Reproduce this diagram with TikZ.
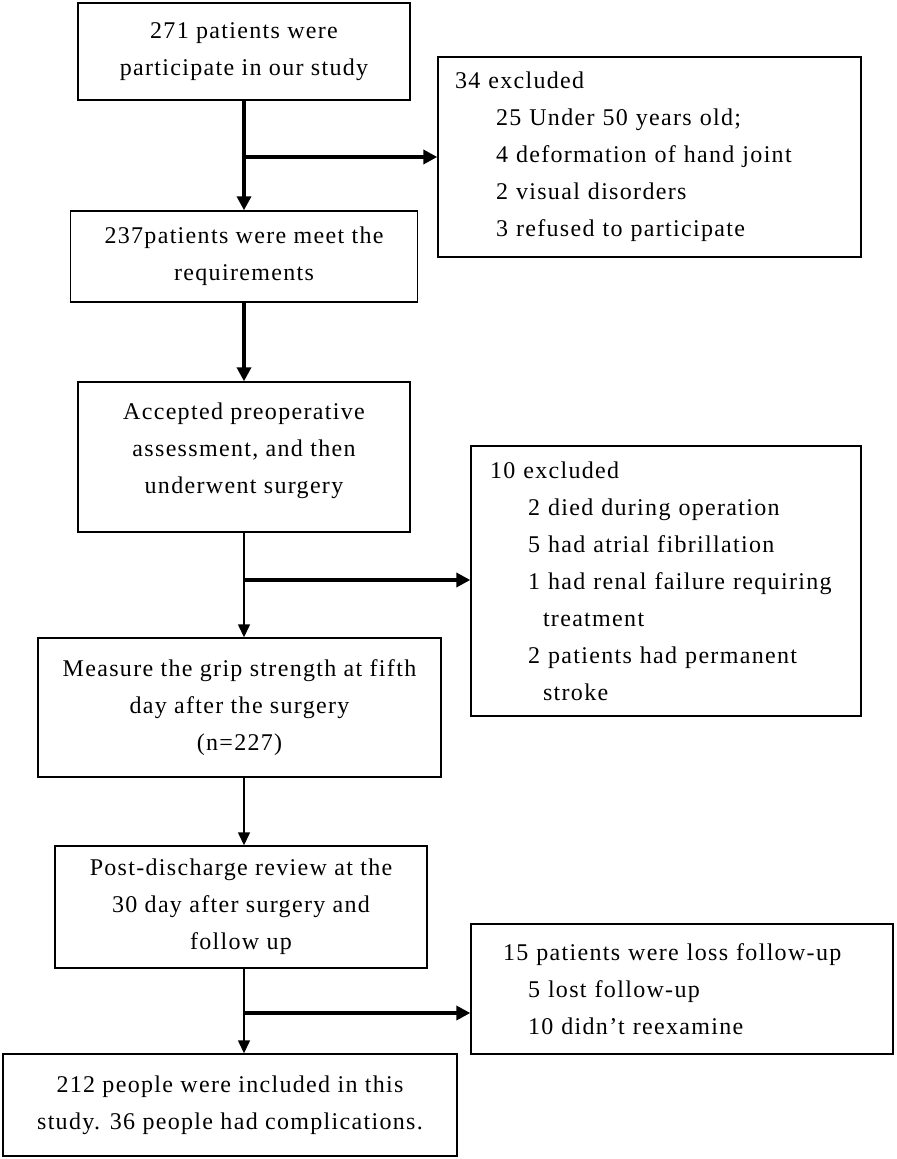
\documentclass[tikz,border=0pt]{standalone}
\usepackage{fontspec}
\setmainfont{Liberation Serif}[LetterSpace=5.5]
\usetikzlibrary{arrows.meta}
\begin{document}
\begin{tikzpicture}[x=0.5pt,y=-0.5pt,
  box/.style={draw,line width=.7pt,align=center,inner sep=0pt,font=\fontsize{12}{18.5}\selectfont},
  exbox/.style={draw,line width=.7pt,align=left,inner ysep=0pt,font=\fontsize{12}{18.5}\selectfont},
  bigarrow/.style={line width=2pt,-{Triangle[width=7pt,length=7pt]}},
  smallarrow/.style={line width=.7pt,-{Triangle[width=6pt,length=6.5pt]}}]
\useasboundingbox (0,0) rectangle (896,1159);
% main column
\node [box,minimum width=166pt,minimum height=48.5pt] (start) at (244,51.5) {271 patients were\\participate in our study};
\node [box,minimum width=173.5pt,minimum height=45.5pt] (meet) at (244,256.5) {237patients were meet the\\requirements};
\node [box,minimum width=166pt,minimum height=75pt] (surgery) at (244,457) {Accepted preoperative\\assessment, and then\\underwent surgery\\[-10pt]};
\node [box,minimum width=201.5pt,minimum height=69.5pt] (grip) at (239.5,707.5) {Measure the grip strength at fifth\\day after the surgery\\(n=227)};
\node [box,minimum width=186pt,minimum height=61pt] (review) at (241,907) {Post-discharge review at the\\30 day after surgery and\\follow up};
\node [box,minimum width=227pt,minimum height=51pt] (final) at (230,1105) {212 people were included in this\\study. 36 people had complications.};
% exclusions
\node [exbox,inner xsep=8.5pt,text width=194.5pt,minimum height=100pt] (ex1) at (649.5,157) {34 excluded\\
  \hspace*{20.5pt}25 Under 50 years old;\\
  \hspace*{20.5pt}4 deformation of hand joint\\
  \hspace*{20.5pt}2 visual disorders\\
  \hspace*{20.5pt}3 refused to participate};
\node [exbox,inner xsep=9.5pt,text width=176pt,minimum height=135pt] (ex2) at (666,581) {10 excluded\\
  \hspace*{19pt}2 died during operation\\
  \hspace*{19pt}5 had atrial fibrillation\\
  \hspace*{19pt}\mbox{1 had renal failure requiring}\\
  \hspace*{26.5pt}treatment\\
  \hspace*{19pt}2 patients had permanent\\
  \hspace*{26.5pt}stroke};
\node [exbox,inner xsep=16pt,text width=179pt,minimum height=65pt] (ex3) at (682,989) {\mbox{15 patients were loss follow-up}\\
  \hspace*{12.5pt}5 lost follow-up\\
  \hspace*{12.5pt}10 didn't reexamine};
% branch points
\coordinate (b1) at (244,157);
\coordinate (b2) at (244,580);
\coordinate (b3) at (244,1013);
% arrows
\draw [bigarrow] (start) -- (meet);
\draw [bigarrow] (b1) -- (b1 -| ex1.west);
\draw [bigarrow] (meet) -- (surgery);
\draw [smallarrow] (surgery.south) -- (surgery.south |- grip.north);
\draw [bigarrow] (b2) -- (b2 -| ex2.west);
\draw [smallarrow] (grip.south -| surgery.south) -- (surgery.south |- review.north);
\draw [smallarrow] (review.south -| surgery.south) -- (surgery.south |- final.north);
\draw [bigarrow] (b3) -- (b3 -| ex3.west);
\end{tikzpicture}
\end{document}
